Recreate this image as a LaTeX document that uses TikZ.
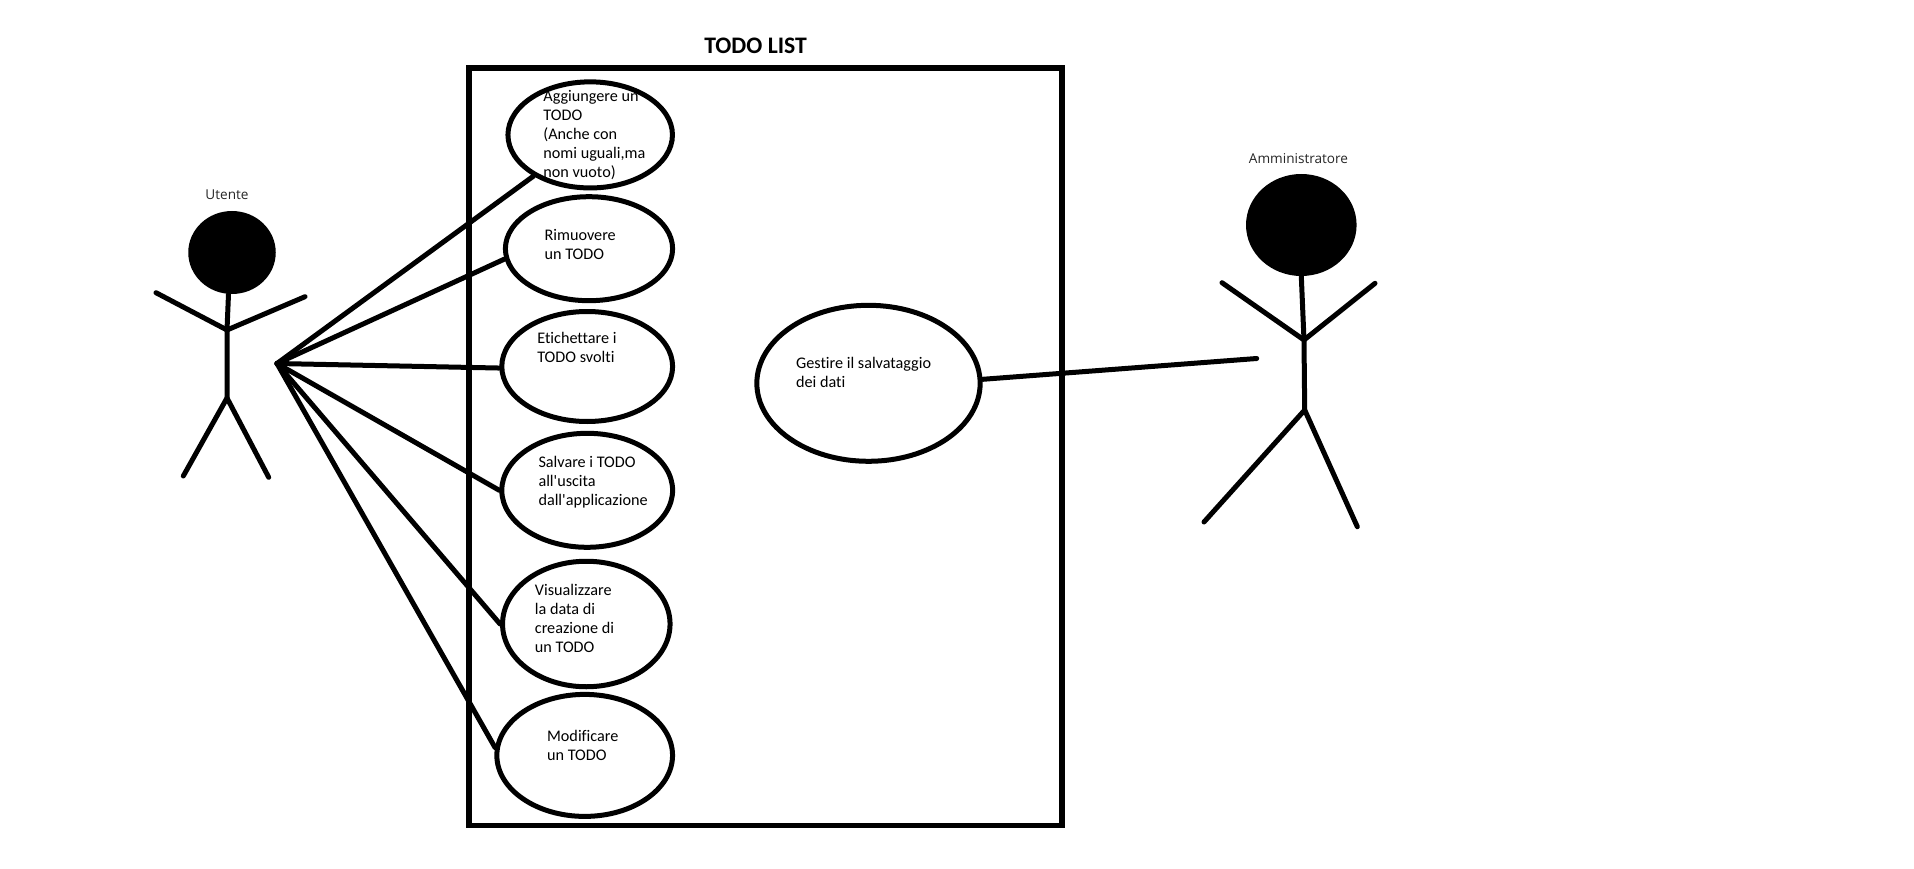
\documentclass[tikz,border=0pt]{standalone}
\usepackage{fontspec}
\newfontfamily\casefont{Carlito}[Ligatures=NoCommon]
\newfontfamily\labelfont{Open Sans}
\usetikzlibrary{shapes.geometric}
\tikzset{
  usecase/.style={ellipse,draw=black,line width=5pt,inner sep=0pt},
  casetext/.style={anchor=north west,align=left,inner sep=0pt,font=\casefont\fontsize{16.2}{19}\selectfont,text=black},
  actortext/.style={inner sep=0pt,font=\labelfont\fontsize{13.6}{15}\selectfont,text=black!85},
  limb/.style={line width=5pt,black,line cap=round,line join=round},
  wire/.style={line width=5pt,black,line cap=round}
}
\begin{document}
\begin{tikzpicture}[x=1pt,y=-1pt]
\useasboundingbox (0,0) rectangle (1914,869);
% system frame
\node[draw=black,line width=5.5pt,minimum width=593pt,minimum height=757.5pt,inner sep=0pt] (frame) at (765.3,446.8) {};
\node[inner sep=0pt,font=\casefont\bfseries\fontsize{23.7}{26}\selectfont] (title) at (755.6,45.5) {TODO LIST};
% use cases
\node[usecase,minimum width=164.5pt,minimum height=106.1pt] (e1) at (590.2,134.9) {};
\node[usecase,minimum width=167.2pt,minimum height=104pt] (e2) at (589,248.7) {};
\node[usecase,minimum width=170.8pt,minimum height=110pt] (e3) at (587.2,366.5) {};
\node[usecase,minimum width=170.8pt,minimum height=114pt] (e4) at (587.2,490.3) {};
\node[usecase,minimum width=167.5pt,minimum height=125.5pt] (e5) at (586.3,624) {};
\node[usecase,minimum width=175.7pt,minimum height=122pt] (e6) at (584.7,755.4) {};
\node[usecase,minimum width=223.3pt,minimum height=156pt] (e7) at (868.5,383.3) {};
\draw[line width=3pt] ([shift={(2,-6)}]e1.west) -- ([shift={(2,6)}]e1.west);
% use case texts
\node[casetext] (t1) at (543.2,90) {Aggiungere un\\TODO\\(Anche con\\nomi uguali,ma\\non vuoto)};
\node[casetext] (t2) at (544.4,229.5) {Rimuovere\\un TODO};
\node[casetext] (t3) at (537.1,332.5) {Etichettare i\\TODO svolti};
\node[casetext] (t4) at (538.3,456.5) {Salvare i TODO\\all'uscita\\dall'applicazione};
\node[casetext] (t5) at (534.7,584) {Visualizzare\\la data di\\creazione di\\un TODO};
\node[casetext] (t6) at (546.9,730) {Modificare\\un TODO};
\node[casetext] (t7) at (795.9,357.5) {Gestire il salvataggio\\dei dati};
% actors: Utente
\node[actortext] (lu) at (227,194.5) {Utente};
\node[ellipse,fill=black,inner sep=0pt,minimum width=87.5pt,minimum height=83pt] (hu) at (232,252.5) {};
\coordinate (nu) at (227,330);
\coordinate (cu) at (227,398);
\draw[limb] (hu.south) ++(-3.5,0) -- (nu) -- (cu);
\draw[limb] (156,292.7) -- (nu) -- (305,296.7);
\draw[limb] (183.3,476) -- (cu) -- (268.7,477.3);
% actors: Amministratore
\node[actortext] (la) at (1298.5,158.5) {Amministratore};
\node[ellipse,fill=black,inner sep=0pt,minimum width=110.6pt,minimum height=102pt] (ha) at (1301.3,225) {};
\coordinate (na) at (1304,340);
\coordinate (ca) at (1304.7,410);
\draw[limb] (ha.south) -- (na) -- (ca);
\draw[limb] (1222,282.7) -- (na) -- (1375,283.3);
\draw[limb] (1204,522) -- (ca) -- (1357.3,526.7);
% connectors
\coordinate (hub) at (277,363.5);
\coordinate (admin) at (1256.7,358.5);
\draw[wire] (hub) -- (e1.216);
\draw[wire] (hub) -- (e2.187);
\draw[wire] (hub) -- (e3.181);
\draw[wire] (hub) -- (e4.180);
\draw[wire] (hub) -- (e5.180);
\draw[wire] (hub) -- (e6.175);
\draw[wire] (e7.2) -- (admin);
\end{tikzpicture}
\end{document}
